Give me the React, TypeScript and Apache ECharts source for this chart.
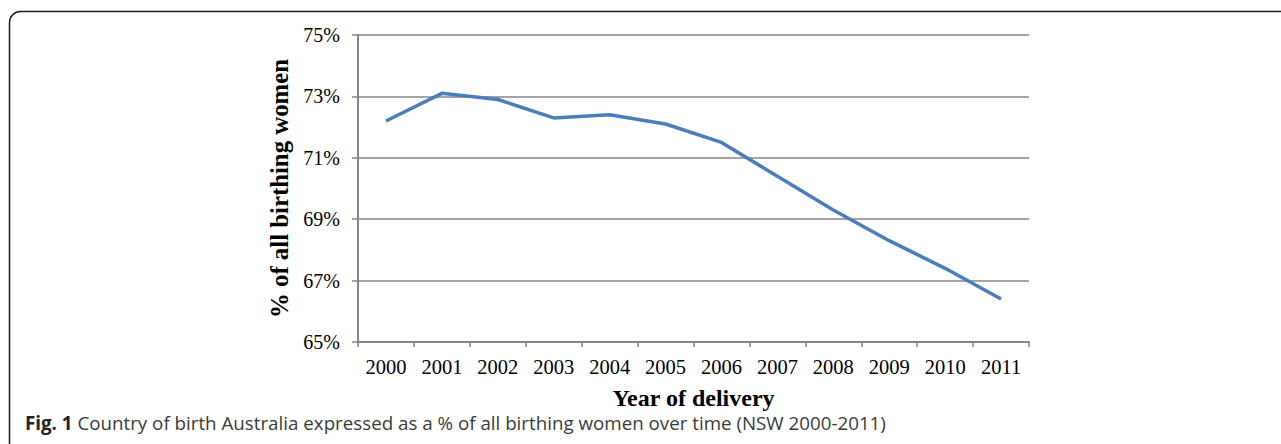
import React, { useEffect, useRef } from "react";
import * as echarts from "echarts";

const years = ["2000", "2001", "2002", "2003", "2004", "2005", "2006", "2007", "2008", "2009", "2010", "2011"];
const percentAustralia = [72.2, 73.1, 72.9, 72.3, 72.4, 72.1, 71.5, 70.4, 69.3, 68.3, 67.4, 66.4];
const yMin = 65;
const yMax = 75;
const yStep = 2;
const xTitle = "Year of delivery";
const yTitle = "% of all birthing women";
const captionLabel = "Fig. 1";
const captionText = "Country of birth Australia expressed as a % of all birthing women over time (NSW 2000-2011)";

export default function App() {
  const ref = useRef<HTMLDivElement>(null);
  useEffect(() => {
    if (!ref.current) return;
    const chart = echarts.init(ref.current, null, { renderer: "svg" });
    const serif = "'Liberation Serif', 'DejaVu Serif', serif";
    const sans = "'Open Sans', 'Noto Sans', sans-serif";
    const gray = "#868686";
    chart.setOption({
      animation: false,
      backgroundColor: "#ffffff",
      grid: { left: 358, right: 252, top: 35, bottom: 102, containLabel: false },
      xAxis: {
        type: "category",
        data: years,
        boundaryGap: true,
        name: xTitle,
        nameLocation: "middle",
        nameGap: 44,
        nameTextStyle: { fontFamily: serif, fontWeight: "bold", fontSize: 24, color: "#000" },
        axisLine: { lineStyle: { color: gray, width: 2 } },
        axisTick: { show: true, length: 5, interval: 0, lineStyle: { color: gray, width: 1.5 } },
        axisLabel: { fontFamily: serif, fontSize: 20.5, color: "#000", margin: 14, interval: 0 },
        splitLine: { show: false },
      },
      yAxis: {
        type: "value",
        min: yMin,
        max: yMax,
        interval: yStep,
        name: yTitle,
        nameLocation: "middle",
        nameRotate: 90,
        nameGap: 58,
        nameTextStyle: { fontFamily: serif, fontWeight: "bold", fontSize: 24.8, color: "#000" },
        axisLine: { show: true, lineStyle: { color: gray, width: 2 } },
        axisTick: { show: true, length: 6, lineStyle: { color: gray, width: 1.5 } },
        axisLabel: { fontFamily: serif, fontSize: 20, color: "#000", margin: 18, formatter: "{value}%" },
        splitLine: { show: true, lineStyle: { color: gray, width: 1.5 } },
      },
      series: [
        {
          type: "line",
          data: percentAustralia,
          showSymbol: false,
          symbol: "none",
          lineStyle: { color: "#4A7EBB", width: 3.5 },
          itemStyle: { color: "#4A7EBB" },
        },
      ],
      graphic: [
        {
          type: "rect",
          shape: { x: 9.5, y: 11.5, width: 1300, height: 500, r: [11, 0, 0, 0] },
          style: { fill: "none", stroke: "#1a1a1a", lineWidth: 1.5 },
          silent: true,
        },
        {
          type: "text",
          x: 25,
          y: 422,
          style: {
            text: "{b|" + captionLabel + "} " + captionText,
            fontFamily: sans,
            fontSize: 18.75,
            fill: "#3a3a3a",
            verticalAlign: "middle",
            rich: {
              b: { fontFamily: sans, fontWeight: "bold", fontSize: 18.75, fill: "#222222", color: "#222222" },
            },
          },
        },
      ],
    });
    return () => chart.dispose();
  }, []);
  return <div ref={ref} style={{ position: "absolute", left: 0, top: 0, width: 1281, height: 444 }} />;
}
